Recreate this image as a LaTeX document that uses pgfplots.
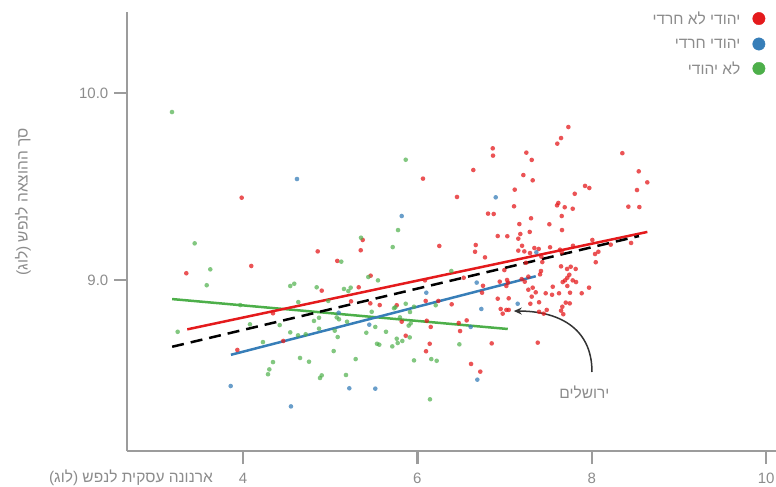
\documentclass[border=0pt]{standalone}
\usepackage{fontspec}
\setmainfont{Liberation Sans}
\newfontfamily\heb[Script=Hebrew]{Liberation Sans}
\TeXXeTstate=1
\usepackage{pgfplots}
\pgfplotsset{compat=1.18}
\usetikzlibrary{arrows.meta}
\definecolor{cred}{HTML}{E41A1C}
\definecolor{cblue}{HTML}{377EB8}
\definecolor{cgreen}{HTML}{4DAF4A}
\definecolor{axgray}{HTML}{9C9C9C}
\definecolor{txtgray}{HTML}{8C8C8C}
\begin{document}
\begin{tikzpicture}
\path[use as bounding box] (0,0) rectangle (776bp,487bp);
\begin{axis}[
  at={(127bp,36bp)}, anchor=south west,
  scale only axis, width=649bp, height=439bp,
  xmin=2.670, xmax=10.112, ymin=8.0856, ymax=10.433,
  axis x line=bottom, axis y line=left,
  axis line style={-, line width=2.5bp, color=axgray},
  tick align=outside, major tick length=13bp,
  tick style={line width=2.5bp, color=axgray},
  xtick={4,6,8,10}, ytick={9,10},
  yticklabel={\pgfmathprintnumber[fixed,fixed zerofill,precision=1]{\tick}},
  /pgf/number format/assume math mode=true,
  tick label style={font=\fontsize{15bp}{18bp}\selectfont, text=txtgray, inner sep=0pt},
  yticklabel style={xshift=-5.5bp},
  xticklabel style={yshift=-8.5bp},
  clip=false,
  legend plot pos=right,
  legend cell align=right,
  legend style={at={(axis description cs:0.9838,1.0004)}, anchor=north east,
    draw=none, fill=none, inner sep=0pt, row sep=11.5bp,
    font=\heb\fontsize{15.5bp}{18bp}\selectfont, text=txtgray,
    nodes={inner sep=0pt},
    /tikz/every odd column/.style={column sep=0pt},
    /tikz/every even column/.style={column sep=0pt}},
]
\addplot[cred, only marks, mark=*, mark size=2.3bp, mark options={draw opacity=0, fill=cred, fill opacity=0.75},
  legend image code/.code={\path (0bp,0bp); \fill[cred] (18.3bp,0.5bp) circle (6.2bp);}]
coordinates {
(3.985,9.440)(3.350,9.036)(4.095,9.075)(4.344,8.822)(4.462,8.674)(3.935,8.626)
(6.064,9.542)(6.454,9.444)(5.373,9.214)(5.350,9.159)(6.251,9.182)(4.857,9.153)(5.081,9.102)(5.464,9.023)(6.087,8.998)(4.903,8.943)(5.327,8.961)(5.239,8.886)(5.460,8.875)(5.568,8.866)(5.763,8.865)(6.095,8.888)(6.240,8.888)(6.393,8.870)(5.820,8.777)(6.107,8.782)(6.153,8.749)(6.474,8.770)(6.489,8.727)(5.866,8.702)(6.141,8.659)(6.099,8.619)
(7.731,9.818)(7.647,9.759)(7.604,9.729)(6.864,9.704)(6.867,9.665)(7.249,9.681)(7.311,9.642)(8.350,9.678)(6.641,9.588)(7.215,9.561)(7.322,9.533)(8.538,9.581)(8.636,9.522)(8.518,9.481)(7.922,9.503)(7.971,9.492)(7.804,9.461)(7.116,9.483)(7.108,9.394)(7.601,9.399)(7.616,9.412)(7.689,9.389)(7.781,9.381)(8.419,9.392)(8.545,9.390)(6.810,9.355)(6.875,9.353)(7.655,9.342)(7.303,9.330)(7.169,9.299)(7.513,9.298)(7.658,9.267)(7.288,9.257)(7.180,9.246)(6.921,9.235)(7.031,9.234)(7.157,9.221)(6.669,9.187)(6.661,9.151)(7.200,9.183)(7.341,9.171)(7.391,9.166)(7.521,9.175)(7.784,9.183)(8.006,9.214)(8.217,9.189)(8.450,9.198)(7.157,9.157)(7.226,9.153)(7.291,9.144)(7.635,9.162)(7.655,9.148)(8.037,9.139)(8.075,9.151)(6.775,9.121)(7.421,9.125)(7.432,9.096)(7.245,9.092)(8.045,9.095)(7.647,9.073)(7.758,9.071)(7.815,9.059)(7.716,9.059)(6.997,9.053)(7.417,9.048)(7.406,9.030)(7.742,9.028)(7.719,9.012)(6.531,9.012)(7.272,9.018)(7.196,9.005)(7.693,8.998)(7.666,8.989)(7.781,8.998)(7.819,8.989)(7.028,9.000)(7.039,8.986)(6.944,8.991)(7.231,8.991)(6.752,8.969)(7.020,8.968)(7.322,8.959)(7.552,8.964)(7.968,8.959)(7.719,8.968)(7.272,8.948)(7.357,8.934)(7.471,8.929)(7.544,8.921)(7.624,8.929)(7.750,8.932)(7.884,8.929)(6.741,8.932)(7.311,8.911)(6.921,8.900)(7.047,8.902)(7.295,8.873)(7.395,8.881)(7.701,8.879)(7.747,8.875)(7.662,8.857)(7.647,8.836)(7.673,8.817)(6.955,8.845)(7.020,8.840)(7.047,8.840)(6.978,8.820)(7.395,8.830)(7.448,8.820)(7.483,8.840)(6.565,8.784)(6.852,8.661)(7.380,8.665)(6.615,8.551)(6.721,8.510)
};
\addlegendentry{\beginR יהודי לא חרדי\endR}
\addplot[cblue, only marks, mark=*, mark size=2.3bp, mark options={draw opacity=0, fill=cblue, fill opacity=0.75},
  legend image code/.code={\path (0bp,0bp); \fill[cblue] (18.3bp,0.5bp) circle (6.2bp);}]
coordinates {
(4.619,9.540)(3.859,8.433)(4.550,8.324)(5.820,9.342)(6.102,8.932)(5.097,8.825)(5.448,8.761)(5.219,8.421)(5.517,8.419)(6.898,9.442)(7.364,9.148)(6.680,8.986)(7.150,8.873)(6.733,8.845)(6.611,8.749)(6.687,8.467)
};
\addlegendentry{\beginR יהודי חרדי\endR}
\addplot[cgreen, only marks, mark=*, mark size=2.3bp, mark options={draw opacity=0, fill=cgreen, fill opacity=0.7},
  legend image code/.code={\path (0bp,0bp); \fill[cgreen] (18.3bp,0.5bp) circle (6.2bp);}]
coordinates {
(3.186,9.898)(3.446,9.196)(3.625,9.057)(3.584,8.972)(4.542,8.968)(4.588,8.980)(3.969,8.866)(4.634,8.882)(3.251,8.723)(4.080,8.763)(4.421,8.759)(4.542,8.720)(4.631,8.704)(4.229,8.668)(4.344,8.561)(4.302,8.522)(4.287,8.496)(4.654,8.583)
(5.866,9.643)(5.778,9.267)(5.353,9.226)(5.717,9.176)(5.127,9.098)(5.437,9.016)(5.548,8.998)(6.389,9.048)(4.845,8.961)(5.158,8.952)(5.235,8.959)(5.208,8.941)(4.978,8.888)(5.732,8.849)(5.747,8.854)(5.866,8.873)(6.210,8.865)(5.476,8.830)(5.961,8.857)(5.915,8.829)(4.814,8.781)(4.872,8.798)(5.075,8.800)(5.101,8.790)(5.193,8.777)(5.800,8.800)(5.923,8.768)(5.900,8.756)(5.517,8.749)(4.719,8.710)(4.872,8.740)(5.052,8.729)(5.414,8.718)(5.640,8.723)(5.086,8.695)(5.763,8.686)(5.912,8.693)(5.537,8.659)(5.563,8.654)(5.712,8.645)(5.774,8.663)(5.827,8.674)(6.481,8.656)(5.040,8.620)(4.757,8.563)(5.292,8.577)(5.961,8.570)(6.159,8.577)(6.221,8.568)(4.903,8.490)(4.883,8.476)(5.181,8.492)(6.144,8.362)
};
\addlegendentry{\beginR לא יהודי\endR}
\addplot[forget plot, no marks, cgreen, line width=2.5bp] coordinates {(3.188,8.898)(7.036,8.738)};
\addplot[forget plot, no marks, cred, line width=2.5bp] coordinates {(3.361,8.736)(8.637,9.257)};
\addplot[forget plot, no marks, cblue, line width=2.5bp] coordinates {(3.862,8.600)(7.357,9.020)};
\addplot[forget plot, no marks, black, line width=2.5bp, dash pattern=on 12bp off 7bp] coordinates {(3.188,8.643)(8.541,9.235)};
\draw[-{Stealth[length=8bp,width=7bp]}, line width=1.5bp, color=black!80]
  (axis cs:8.002,8.508) .. controls (axis cs:8.002,8.75) and (axis cs:7.6,8.834) .. (axis cs:7.105,8.834);
\node[text=txtgray, font=\heb\fontsize{15.5bp}{18bp}\selectfont] at (axis cs:7.915,8.401) {\beginR ירושלים\endR};
\end{axis}
\node[anchor=east, text=txtgray, font=\heb\fontsize{15.5bp}{18bp}\selectfont, inner sep=0pt] at (213bp,9bp) {\beginR ארנונה עסקית לנפש (לוג)\endR};
\node[rotate=90, text=txtgray, font=\heb\fontsize{15.5bp}{18bp}\selectfont, inner sep=0pt] at (23bp,285bp) {\beginR סך ההוצאה לנפש (לוג)\endR};
\end{tikzpicture}
\end{document}
